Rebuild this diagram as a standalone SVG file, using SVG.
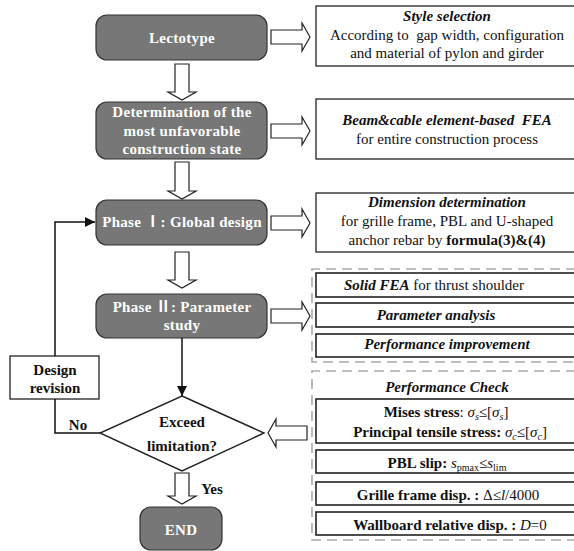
<svg xmlns="http://www.w3.org/2000/svg" width="574" height="551" viewBox="0 0 574 551">
  <style>
    text { font-family: 'Liberation Serif', 'Times New Roman', serif; }
    .node { fill: #777777; stroke: #333333; stroke-width: 1.2; }
    .ntxt { fill: #ffffff; font-weight: bold; font-size: 15px; text-anchor: middle; letter-spacing: 0.3px; }
    .roman { font-family: 'Noto Sans CJK SC', sans-serif; }
    .box { fill: #ffffff; stroke: #222222; stroke-width: 1.3; }
    .cell { stroke-width: 1.6; }
    .txt { fill: #111111; font-size: 15px; text-anchor: middle; }
    .bi { font-weight: bold; font-style: italic; }
    .b { font-weight: bold; }
    .i { font-style: italic; }
    .sub { font-size: 10px; }
    .hollow { fill: #ffffff; stroke: #222222; stroke-width: 1.2; stroke-linejoin: miter; }
    .dash { fill: none; stroke: #aaaaaa; stroke-width: 1.6; stroke-dasharray: 10 6; }
    .line { fill: none; stroke: #111111; stroke-width: 1.5; }
    .btxt { fill: #111111; font-weight: bold; font-size: 15px; text-anchor: middle; }
  </style>
  <defs>
    <marker id="tri" viewBox="0 0 10 10" refX="10" refY="5" markerWidth="10" markerHeight="10" markerUnits="userSpaceOnUse" orient="auto">
      <path d="M0,0 L10,5 L0,10 z" fill="#111111"/>
    </marker>
  </defs>

  <rect width="574" height="551" fill="#ffffff"/>

  <!-- flow nodes: white bold captions on grey rounded boxes -->
  <g id="lectotype">
    <rect class="node" x="96" y="15" width="171" height="45" rx="11"/>
    <text class="ntxt" x="182" y="43">Lectotype</text>
  </g>
  <g id="unfavorable-state">
    <rect class="node" x="96" y="102" width="171" height="57" rx="11"/>
    <text class="ntxt" x="182" y="117">Determination of the</text>
    <text class="ntxt" x="182" y="135.5">most unfavorable</text>
    <text class="ntxt" x="182" y="154">construction state</text>
  </g>
  <g id="phase1">
    <rect class="node" x="96" y="200" width="171" height="45" rx="11"/>
    <text class="ntxt" x="182" y="227" letter-spacing="0">Phase <tspan class="roman">Ⅰ</tspan>: Global design</text>
  </g>
  <g id="phase2">
    <rect class="node" x="96" y="294" width="171" height="44" rx="11"/>
    <text class="ntxt" x="182" y="312">Phase <tspan class="roman">Ⅱ</tspan>: Parameter</text>
    <text class="ntxt" x="182" y="330">study</text>
  </g>
  <g id="decision">
    <polygon points="182,396 264,433 182,471 100,433" fill="#ffffff" stroke="#222222" stroke-width="1.4"/>
    <text class="btxt" x="182" y="427">Exceed</text>
    <text class="btxt" x="182" y="451">limitation?</text>
  </g>
  <g id="end">
    <rect class="node" x="140" y="507" width="82" height="43" rx="11"/>
    <text class="ntxt" x="181" y="535">END</text>
  </g>
  <g id="design-revision">
    <rect x="10" y="356" width="89" height="43" fill="#ffffff" stroke="#222222" stroke-width="1.3"/>
    <text class="btxt" x="55" y="375">Design</text>
    <text class="btxt" x="55" y="393">revision</text>
  </g>

  <!-- description boxes -->
  <g id="style-selection">
    <rect class="box" x="316" y="6" width="262" height="60"/>
    <text class="txt bi" x="447" y="21">Style selection</text>
    <text class="txt" x="447" y="40" xml:space="preserve">According to  gap width, configuration</text>
    <text class="txt" x="447" y="58">and material of pylon and girder</text>
  </g>
  <g id="beam-fea">
    <rect class="box" x="316" y="99" width="262" height="60"/>
    <text class="txt bi" x="447" y="125" xml:space="preserve">Beam&amp;cable element-based  FEA</text>
    <text class="txt" x="447" y="144">for entire construction process</text>
  </g>
  <g id="dimension">
    <rect class="box" x="316" y="193" width="262" height="59"/>
    <text class="txt bi" x="447" y="207">Dimension determination</text>
    <text class="txt" x="447" y="226">for grille frame, PBL and U-shaped</text>
    <text class="txt" x="447" y="245">anchor rebar by <tspan class="b">formula(3)&amp;(4)</tspan></text>
  </g>
  <g id="parameter-group">
    <path class="dash" d="M576,269 H312 V362 H576"/>
    <rect class="box cell" x="316" y="273" width="262" height="24"/>
    <text class="txt" x="434" y="290"><tspan class="bi">Solid FEA</tspan> for thrust shoulder</text>
    <rect class="box cell" x="316" y="303" width="262" height="24"/>
    <text class="txt bi" x="436" y="320">Parameter analysis</text>
    <rect class="box cell" x="316" y="334" width="262" height="23"/>
    <text class="txt bi" x="447" y="349">Performance improvement</text>
  </g>
  <g id="performance-check">
    <path class="dash" d="M576,371 H312 V540 H576"/>
    <text class="txt bi" x="447" y="392">Performance Check</text>
    <rect class="box cell" x="316" y="399" width="262" height="44"/>
    <text class="txt" x="446" y="417"><tspan class="b">Mises stress</tspan>: <tspan class="i">σ</tspan><tspan class="i sub" dy="3">s</tspan><tspan dy="-3">≤[</tspan><tspan class="i">σ</tspan><tspan class="i sub" dy="3">s</tspan><tspan dy="-3">]</tspan></text>
    <text class="txt" x="450" y="437"><tspan class="b">Principal tensile stress: </tspan><tspan class="i">σ</tspan><tspan class="i sub" dy="3">c</tspan><tspan dy="-3">≤[</tspan><tspan class="i">σ</tspan><tspan class="i sub" dy="3">c</tspan><tspan dy="-3">]</tspan></text>
    <rect class="box cell" x="316" y="450" width="262" height="23"/>
    <text class="txt" x="447" y="468"><tspan class="b">PBL slip: </tspan><tspan class="i">s</tspan><tspan class="sub" dy="3">pmax</tspan><tspan dy="-3">≤</tspan><tspan class="i">s</tspan><tspan class="sub" dy="3">lim</tspan></text>
    <rect class="box cell" x="316" y="482" width="262" height="23"/>
    <text class="txt" x="448" y="500"><tspan class="b">Grille frame disp. : </tspan>Δ≤<tspan class="i">l</tspan>/4000</text>
    <rect class="box cell" x="316" y="512" width="262" height="23"/>
    <text class="txt" x="450" y="530"><tspan class="b">Wallboard relative disp. : </tspan><tspan class="i">D</tspan>=0</text>
  </g>

  <!-- connectors -->
  <g id="connectors">
    <!-- vertical hollow arrows -->
    <polygon class="hollow" points="175,64 189,64 189,92 196,92 182,100 168,92 175,92"/>
    <polygon class="hollow" points="175,162 189,162 189,191 196,191 182,199 168,191 175,191"/>
    <polygon class="hollow" points="175,252 189,252 189,280 196,280 182,288 168,280 175,280"/>
    <polygon class="hollow" points="175,473 189,473 189,496 196,496 182,504 168,496 175,496"/>
    <text class="btxt" x="212" y="494">Yes</text>

    <!-- horizontal hollow arrows to the description boxes -->
    <polygon class="hollow" points="271,30 302,30 302,23 310,37 302,51 302,44 271,44"/>
    <polygon class="hollow" points="271,124 302,124 302,117 310,131 302,145 302,138 271,138"/>
    <polygon class="hollow" points="271,216 302,216 302,209 310,223 302,237 302,230 271,230"/>
    <polygon class="hollow" points="271,309 302,309 302,302 310,316 302,330 302,323 271,323"/>

    <!-- check results back into the decision -->
    <polygon class="hollow" points="307,426 276,426 276,419 268,433 276,447 276,440 307,440"/>

    <!-- Phase II to decision -->
    <path class="line" d="M182,338 V396" marker-end="url(#tri)"/>

    <!-- No branch: revision loop back to Phase I -->
    <path class="line" d="M100,433 H55 V399"/>
    <path class="line" d="M55,356 V222 H95" marker-end="url(#tri)"/>
    <text class="btxt" x="78" y="430">No</text>
  </g>
</svg>
